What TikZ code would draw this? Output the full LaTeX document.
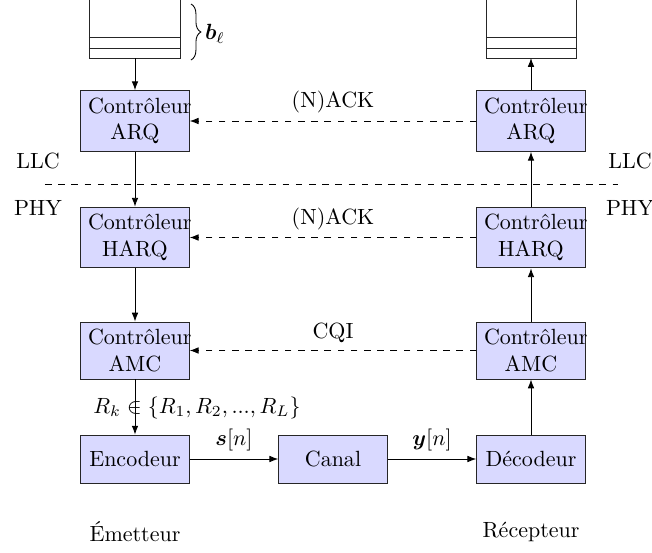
\documentclass[tikz,border=0pt]{standalone}
\usepackage{amsmath}
\usetikzlibrary{decorations.pathreplacing,arrows.meta}
\begin{document}
\begin{tikzpicture}[x=0.4545pt,y=-0.4545pt,
  blk/.style={draw=black!85,fill=blue!15,text width=1.5cm,align=center,minimum height=21.8pt,inner sep=3.33pt},
  flow/.style={-{Latex[length=4pt,width=3pt]}},
  fb/.style={-{Latex[length=4pt,width=3pt]},dashed},
  buf/.style={draw=black!85}]
\useasboundingbox (0,0) rectangle (652,553);
% buffers
\draw[buf] (89,0) -- (89,58) -- (180,58) -- (180,0);
\draw[buf] (89,37) -- (180,37) (89,48) -- (180,48);
\draw[buf] (486,0) -- (486,58) -- (576,58) -- (576,0);
\draw[buf] (486,37) -- (576,37) (486,48) -- (576,48);
\coordinate (bufL) at (135,58);
\coordinate (bufR) at (531,58);
\draw[decorate,decoration={brace,amplitude=4.5pt}] (191,4) -- (191,60);
\node (bl) at (215,34) {$\boldsymbol{b}_\ell$};
% nodes
\node[blk] (arqL) at (135,121) {Contrôleur\\ARQ};
\node[blk] (harqL) at (135,237.5) {Contrôleur\\HARQ};
\node[blk] (amcL) at (135,350.5) {Contrôleur\\AMC};
\node[blk] (enc) at (135,459) {Encodeur};
\node[blk] (can) at (333,459) {Canal};
\node[blk] (dec) at (531,459) {Décodeur};
\node[blk] (arqR) at (531,121) {Contrôleur\\ARQ};
\node[blk] (harqR) at (531,237.5) {Contrôleur\\HARQ};
\node[blk] (amcR) at (531,350.5) {Contrôleur\\AMC};
% layer labels
\node (llcL) at (38,161) {LLC};
\node (phyL) at (38,208) {PHY};
\node (llcR) at (630,161) {LLC};
\node (phyR) at (630,208) {PHY};
\coordinate (dl) at (45,184);
\coordinate (dr) at (618,184);
\draw[dashed] (dl) -- (dr);
\node (em) at (135,532) {Émetteur};
\node (re) at (531,532) {Récepteur};
% flows
\draw[flow] (bufL) -- (arqL);
\draw[flow] (arqL) -- (harqL);
\draw[flow] (harqL) -- (amcL);
\draw[flow] (amcL) -- (enc);
\node (rk) at (197,408) {$R_k \in \{R_1, R_2, ..., R_L\}$};
\draw[flow] (enc) -- node[above] {$\boldsymbol{s}[n]$} (can);
\draw[flow] (can) -- node[above] {$\boldsymbol{y}[n]$} (dec);
\draw[flow] (dec) -- (amcR);
\draw[flow] (amcR) -- (harqR);
\draw[flow] (harqR) -- (arqR);
\draw[flow] (arqR) -- (bufR);
% feedback
\draw[fb] (arqR) -- node[above] {(N)ACK} (arqL);
\draw[fb] (harqR) -- node[above] {(N)ACK} (harqL);
\draw[fb] (amcR) -- node[above] {CQI} (amcL);
\end{tikzpicture}
\end{document}
